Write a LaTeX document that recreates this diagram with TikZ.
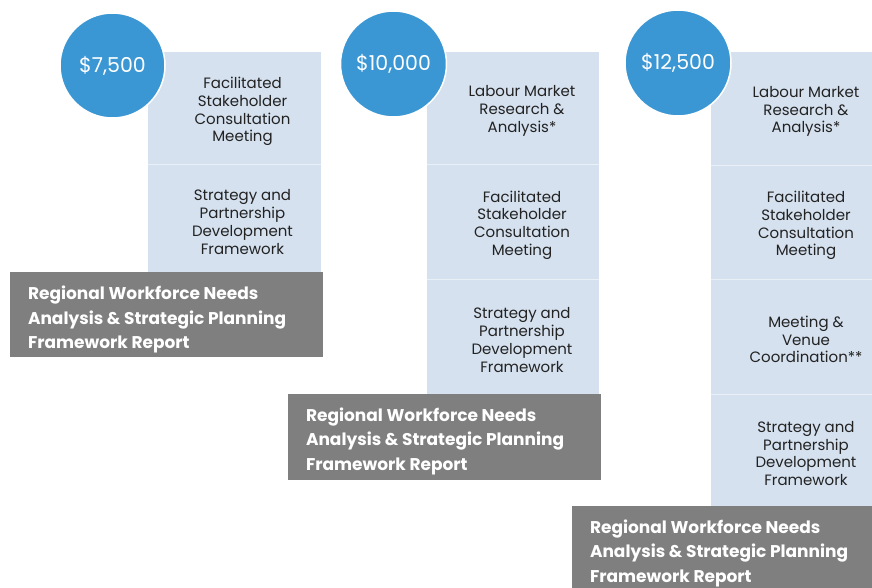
\documentclass[tikz,border=0pt]{standalone}
\usepackage{fontspec}
\setmainfont{Poppins}
\definecolor{circblue}{HTML}{3A97D4}
\definecolor{boxblue}{HTML}{D5E1EF}
\definecolor{boxgray}{HTML}{7F7F7F}
\definecolor{bodytext}{HTML}{222222}
\begin{document}
\begin{tikzpicture}[x=1pt,y=-1pt,
  item/.style={fill=boxblue, draw=none, inner sep=0pt},
  itemtext/.style={inner sep=0pt, align=center, text=bodytext,
    font=\fontsize{15}{17.7}\selectfont},
  sepline/.style={draw=white, draw opacity=0.5, line width=0.8pt},
  graybox/.style={fill=boxgray, draw=none, inner sep=0pt},
  graytext/.style={text=white, align=left, inner sep=0pt, anchor=west,
    font=\fontsize{17}{24.5}\selectfont\bfseries},
  price/.style={circle, fill=circblue, draw=white, line width=1.5pt, inner sep=0pt,
    text=white, font=\fontsize{20.5}{24}\selectfont}]
\useasboundingbox (0,0) rectangle (872,588);
% ---------- column 1 ----------
\node[item, minimum width=173pt, minimum height=112pt] (a1) at (234.5,108) {};
\node[item, minimum width=173pt, minimum height=108pt] (a2) at (234.5,218) {};
\node[itemtext] (a1t) at ([xshift=8pt,yshift=-3.5pt]a1.center) {Facilitated\\Stakeholder\\Consultation\\Meeting};
\node[itemtext] (a2t) at ([xshift=8pt,yshift=-4pt]a2.center) {Strategy and\\Partnership\\Development\\Framework};
\draw[sepline] (a1.south west) -- (a1.south east);
\node[graybox, minimum width=313pt, minimum height=85pt] (g1) at (166.5,314.5) {};
\node[graytext] (t1) at ([xshift=18pt,yshift=-5pt]g1.west)
  {Regional Workforce Needs\\Analysis \& Strategic Planning\\Framework Report};
\node[price, minimum size=105pt] (c1) at (112.5,65.5) {\$7,500};
% ---------- column 2 ----------
\node[item, minimum width=172pt, minimum height=112pt] (b1) at (513,108) {};
\node[item, minimum width=172pt, minimum height=115pt] (b2) at (513,221.5) {};
\node[item, minimum width=172pt, minimum height=115pt] (b3) at (513,336.5) {};
\node[itemtext] (b1t) at ([xshift=9pt,yshift=-3pt]b1.center) {Labour Market\\Research \&\\Analysis*};
\node[itemtext] (b2t) at ([xshift=9pt,yshift=-3.5pt]b2.center) {Facilitated\\Stakeholder\\Consultation\\Meeting};
\node[itemtext] (b3t) at ([xshift=9pt,yshift=-3.5pt]b3.center) {Strategy and\\Partnership\\Development\\Framework};
\draw[sepline] (b1.south west) -- (b1.south east);
\draw[sepline] (b2.south west) -- (b2.south east);
\node[graybox, minimum width=313pt, minimum height=86pt] (g2) at (444.5,437) {};
\node[graytext] (t2) at ([xshift=18pt,yshift=-4pt]g2.west)
  {Regional Workforce Needs\\Analysis \& Strategic Planning\\Framework Report};
\node[price, minimum size=106pt] (c2) at (393.5,64) {\$10,000};
% ---------- column 3 (cut off at the right edge) ----------
\node[item, minimum width=172pt, minimum height=113pt] (d1) at (797,108.5) {};
\node[item, minimum width=172pt, minimum height=114pt] (d2) at (797,222) {};
\node[item, minimum width=172pt, minimum height=115pt] (d3) at (797,336.5) {};
\node[item, minimum width=172pt, minimum height=112pt] (d4) at (797,450) {};
\node[itemtext] (d1t) at ([xshift=9pt,yshift=-3pt]d1.center) {Labour Market\\Research \&\\Analysis*};
\node[itemtext] (d2t) at ([xshift=9pt,yshift=-3.5pt]d2.center) {Facilitated\\Stakeholder\\Consultation\\Meeting};
\node[itemtext] (d3t) at ([xshift=9pt,yshift=-3pt]d3.center) {Meeting \&\\Venue\\Coordination**};
\node[itemtext] (d4t) at ([xshift=9pt,yshift=-3.5pt]d4.center) {Strategy and\\Partnership\\Development\\Framework};
\draw[sepline] (d1.south west) -- (d1.south east);
\draw[sepline] (d2.south west) -- (d2.south east);
\draw[sepline] (d3.south west) -- (d3.south east);
\node[graybox, minimum width=313pt, minimum height=86pt] (g3) at (728.5,549) {};
\node[graytext] (t3) at ([xshift=18pt,yshift=-4pt]g3.west)
  {Regional Workforce Needs\\Analysis \& Strategic Planning\\Framework Report};
\node[price, minimum size=106pt] (c3) at (678,63) {\$12,500};
\end{tikzpicture}
\end{document}
